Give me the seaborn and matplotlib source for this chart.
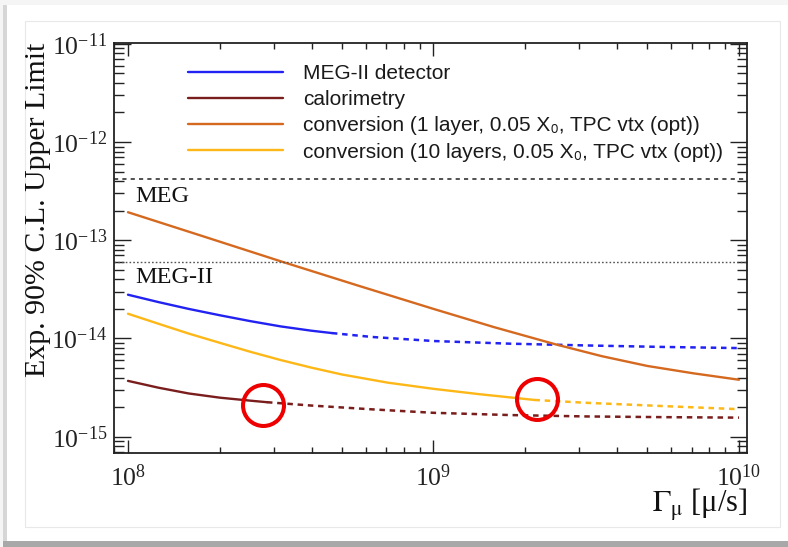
import numpy as np
import seaborn as sns
import matplotlib.pyplot as plt
from matplotlib.ticker import LogLocator, LogFormatterMathtext, NullFormatter
from matplotlib.patches import Rectangle

# expected 90% C.L. upper limit vs muon stopping rate
det_rate = [1e8, 1.26e8, 1.58e8, 2e8, 2.51e8, 3.16e8, 3.98e8, 4.65e8, 6.31e8, 1e9, 1.78e9, 3.16e9, 5.62e9, 1e10]
det_ul = [2.79e-14, 2.344e-14, 2.0e-14, 1.722e-14, 1.503e-14, 1.327e-14, 1.2e-14, 1.135e-14,
          1.035e-14, 9.42e-15, 8.85e-15, 8.49e-15, 8.2e-15, 7.98e-15]
det_cut = 4.65e8

cal_rate = [1e8, 1.26e8, 1.58e8, 2e8, 2.51e8, 2.85e8, 3.98e8, 6.31e8, 1e9, 1.78e9, 3.16e9, 5.62e9, 1e10]
cal_ul = [3.70e-15, 3.15e-15, 2.754e-15, 2.495e-15, 2.328e-15, 2.244e-15, 2.075e-15, 1.897e-15,
          1.75e-15, 1.66e-15, 1.607e-15, 1.581e-15, 1.563e-15]
cal_cut = 2.85e8

conv1_rate = [1e8, 1.78e8, 3.16e8, 5.62e8, 1e9, 1.58e9, 2.51e9, 3.55e9, 5.01e9, 7.08e9, 1e10]
conv1_ul = [1.93e-13, 1.086e-13, 6.11e-14, 3.48e-14, 2.0e-14, 1.303e-14, 8.71e-15, 6.61e-15,
            5.25e-15, 4.42e-15, 3.8e-15]

conv10_rate = [1e8, 1.26e8, 1.58e8, 2e8, 2.51e8, 3.16e8, 3.98e8, 5.01e8, 7.08e8, 1e9, 1.41e9,
               2.14e9, 3.16e9, 5.62e9, 1e10]
conv10_ul = [1.786e-14, 1.41e-14, 1.122e-14, 9.02e-15, 7.33e-15, 6.03e-15, 5.05e-15, 4.3e-15,
             3.55e-15, 3.07e-15, 2.71e-15, 2.366e-15, 2.213e-15, 2.05e-15, 1.905e-15]
conv10_cut = 2.14e9

meg_ul = 4.2e-13
megii_ul = 6.0e-14

circle_rate = [2.77e8, 2.18e9]
circle_ul = [2.1e-15, 2.43e-15]

labels = ['MEG-II detector', 'calorimetry',
          'conversion (1 layer, 0.05 X\u2080, TPC vtx (opt))',
          'conversion (10 layers, 0.05 X\u2080, TPC vtx (opt))']
colors = ['#2222f2', '#7a1d1d', '#d4691f', '#fdb817']

sns.set_style('ticks')
plt.rcParams['font.family'] = ['Liberation Serif', 'DejaVu Serif']
plt.rcParams['mathtext.fontset'] = 'stix'

W, H = 788, 547
fig = plt.figure(figsize=(W / 100, H / 100), dpi=100)
fig.patch.set_facecolor('#f5f5f5')


def px_rect(x0, y0, x1, y1, **kw):
    r = Rectangle((x0 / W, 1 - y1 / H), (x1 - x0) / W, (y1 - y0) / H,
                  transform=fig.transFigure, zorder=-5, **kw)
    fig.patches.append(r)


# slide card + shadow
px_rect(3, 5, 7, 543, facecolor='#d6d6d6', edgecolor='none')
px_rect(3, 541, 800, 547, facecolor='#a8a8a8', edgecolor='none')
px_rect(7, 5, 800, 541, facecolor='white', edgecolor='none')
px_rect(25, 21, 780, 527, facecolor='none', edgecolor='#e8e8e8', lw=0.8)

ax = fig.add_axes([114 / W, 1 - 453 / H, 633 / W, 410 / H])
ax.set_xscale('log')
ax.set_yscale('log')


def draw(rate, ul, color, label, cut=None):
    r = np.array(rate)
    u = np.array(ul)
    if cut is None:
        cut = r.max()
    solid = r <= cut
    sns.lineplot(x=r[solid], y=u[solid], color=color, lw=1.7, label=label, ax=ax)
    if cut < r.max():
        dash = r >= cut
        sns.lineplot(x=r[dash], y=u[dash], color=color, lw=1.8,
                     linestyle=(0, (2.2, 1.9)), ax=ax)


draw(det_rate, det_ul, colors[0], labels[0], det_cut)
draw(cal_rate, cal_ul, colors[1], labels[1], cal_cut)
draw(conv1_rate, conv1_ul, colors[2], labels[2])
draw(conv10_rate, conv10_ul, colors[3], labels[3], conv10_cut)

ax.axhline(meg_ul, color='#333333', lw=1.2, linestyle=(0, (2.5, 2.5)))
ax.axhline(megii_ul, color='#555555', lw=1.0, linestyle=(0, (1.2, 1.5)))

ax.plot(circle_rate, circle_ul, 'o', ms=29.5, mfc='none', mec='#ee0000', mew=2.9)

ax.text(0.033, 0.612, 'MEG', transform=ax.transAxes, fontsize=17.5, color='#111111')
ax.text(0.033, 0.4146, 'MEG-II', transform=ax.transAxes, fontsize=17.5, color='#111111')

ax.set_xlim(9.0e7, 1.062e10)
ax.set_ylim(6.82e-16, 1.02e-11)

for a in (ax.xaxis, ax.yaxis):
    a.set_major_locator(LogLocator(base=10, numticks=20))
    a.set_major_formatter(LogFormatterMathtext())
    a.set_minor_locator(LogLocator(base=10, subs=np.arange(2, 10), numticks=100))
    a.set_minor_formatter(NullFormatter())

ax.tick_params(which='both', direction='in', top=True, right=True, colors='#222222', width=1.0)
ax.tick_params(axis='y', which='major', length=12.5, labelsize=18.5, pad=5)
ax.tick_params(axis='y', which='minor', length=7)
ax.tick_params(axis='x', which='major', length=9.5, labelsize=18.5, pad=8)
ax.tick_params(axis='x', which='minor', length=4.5)
for s in ax.spines.values():
    s.set_color('#222222')
    s.set_linewidth(1.3)

ax.set_ylabel('Exp. 90% C.L. Upper Limit', fontsize=21.5, loc='top', color='#111111')
ax.yaxis.set_label_coords(-0.1193, 1.0)
ax.yaxis.label.set_va('center')
ax.set_xlabel('$\\mathrm{\\Gamma_{\\mu}}$ [\u03bc/s]', fontsize=22, loc='right', color='#111111')
ax.xaxis.set_label_coords(1.0, -0.127)
ax.xaxis.label.set_va('center')

ax.legend(loc='upper left', bbox_to_anchor=(0.117, 0.948), frameon=False,
          borderpad=0, borderaxespad=0, handlelength=4.55, handletextpad=0.95,
          labelspacing=0.34, labelcolor='#1a1a1a',
          prop={'family': ['Liberation Sans', 'DejaVu Sans'], 'size': 15})

fig.savefig('out.png', dpi=100)
